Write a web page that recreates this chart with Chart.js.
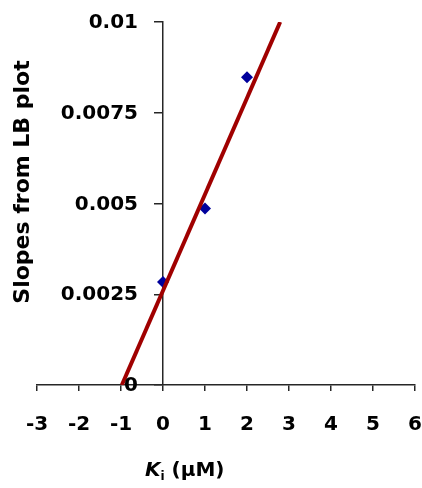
<!DOCTYPE html>
<html>
<head>
<meta charset="utf-8">
<script src="https://cdn.jsdelivr.net/npm/chart.js@4"></script>
<style>
  body { margin: 0; background: #fff; }
</style>
</head>
<body>
<canvas id="chart" width="422" height="488"></canvas>
<script>
// data
const kiValues = [0, 1, 2];
const slopeValues = [0.00284, 0.00486, 0.00848];
// fitted line, ends read where it meets the axis and the top of the plot
const fitX = [-0.98, 2.79];
const fitY = [0, 0.01];
const xTicks = [-3, -2, -1, 0, 1, 2, 3, 4, 5, 6];
const yTickLabels = ["0", "0.0025", "0.005", "0.0075", "0.01"];

const FONT = "'DejaVu Sans', sans-serif";
const axisColor = "#262626";

// no extra room for the scales, the layout padding sets the plot box
const noPadding = (s) => {
  s.paddingTop = s.paddingBottom = s.paddingLeft = s.paddingRight = 0;
};

// axis titles and y tick labels drawn by hand
// (labels sit left of the y axis at x = 0, titles have an italic K with subscript i)
const titlesPlugin = {
  id: "titles",
  afterDraw(chart) {
    const ctx = chart.ctx;
    const xs = chart.scales.x, ys = chart.scales.y;
    ctx.save();
    ctx.fillStyle = "#000";

    // y tick labels
    const labelRight = xs.getPixelForValue(0) - 25;
    ctx.font = "bold 20px " + FONT;
    ctx.textAlign = "right";
    ctx.textBaseline = "middle";
    ys.ticks.forEach((t, i) => {
      ctx.fillText(yTickLabels[i], labelRight, ys.getPixelForValue(t.value) + 1);
    });

    ctx.textBaseline = "alphabetic";
    // y title
    ctx.save();
    ctx.translate(29, 182);
    ctx.rotate(-Math.PI / 2);
    ctx.font = "bold 22px " + FONT;
    ctx.textAlign = "center";
    ctx.fillText("Slopes from LB plot", 0, 0);
    ctx.restore();

    // x title
    let x = 145, y = 476;
    ctx.textAlign = "left";
    ctx.font = "italic bold 20px " + FONT;
    ctx.fillText("K", x, y);
    x += ctx.measureText("K").width;
    ctx.font = "bold 12px " + FONT;
    ctx.fillText("i", x, y + 4);
    x += ctx.measureText("i").width;
    ctx.font = "bold 20px " + FONT;
    ctx.fillText(" (\u00B5M)", x, y);
    ctx.restore();
  }
};

new Chart(document.getElementById("chart"), {
  type: "scatter",
  data: {
    datasets: [
      {
        label: "fit",
        data: fitX.map((x, i) => ({ x: x, y: fitY[i] })),
        showLine: true,
        borderColor: "#a00000",
        borderWidth: 4,
        pointRadius: 0,
      },
      {
        label: "slopes",
        data: kiValues.map((x, i) => ({ x: x, y: slopeValues[i] })),
        pointStyle: "rectRot",
        pointRadius: 6,
        backgroundColor: "#00009c",
        borderWidth: 0,
      },
    ],
  },
  options: {
    responsive: false,
    animation: false,
    layout: { padding: { left: 37, right: 7, top: 22, bottom: 0 } },
    plugins: {
      legend: { display: false },
      tooltip: { enabled: false },
    },
    scales: {
      x: {
        type: "linear",
        position: "bottom",
        min: -3,
        max: 6,
        afterBuildTicks: (s) => { s.ticks = xTicks.map((v) => ({ value: v })); },
        afterFit: (s) => { s.height = 103; noPadding(s); },
        grid: { display: true, drawOnChartArea: false, drawTicks: true, tickLength: 6, color: axisColor, lineWidth: 1.5 },
        border: { display: true, color: axisColor, width: 1.5 },
        ticks: { color: "#000", font: { family: FONT, size: 20, weight: "bold" }, padding: 22, maxRotation: 0 },
      },
      y: {
        type: "linear",
        position: { x: 0 },
        min: 0,
        max: 0.01,
        afterBuildTicks: (s) => { s.ticks = yTickLabels.map((t) => ({ value: parseFloat(t) })); },
        afterFit: (s) => { s.width = 0; noPadding(s); },
        grid: { display: true, drawOnChartArea: false, drawTicks: true, tickLength: 8, color: axisColor, lineWidth: 1.5 },
        border: { display: true, color: axisColor, width: 1.5 },
        ticks: { display: false },
      },
    },
  },
  plugins: [titlesPlugin],
});
</script>
</body>
</html>
